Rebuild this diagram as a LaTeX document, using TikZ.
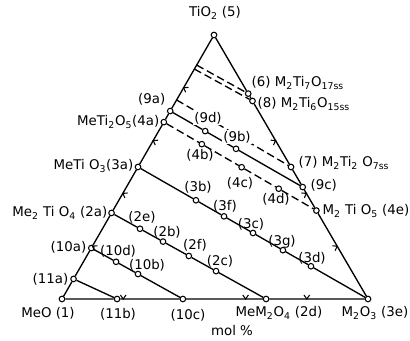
\documentclass[tikz,border=0pt]{standalone}
\usepackage{fontspec}
\setmainfont{DejaVu Sans}
\usetikzlibrary{calc}
\newcommand{\ix}[1]{\textsubscript{#1}}
\tikzset{
  pt/.style={circle,draw,fill=white,inner sep=0pt,minimum size=1.4mm,line width=0.75pt},
  lbl/.style={font=\fontsize{9.5}{11}\selectfont,inner sep=1pt},
  tie/.style={line width=0.95pt},
  tiedash/.style={line width=0.95pt,dash pattern=on 5.5pt off 2.8pt},
  chev/.pic={\draw[line width=0.75pt] (55:3.5pt) -- (0,0) -- (125:3.5pt);}
}
\begin{document}
\begin{tikzpicture}[x=0.025cm,y=-0.025cm]
\useasboundingbox (0,0) rectangle (410,341);
% corners
\node[pt] (TiO2) at (214,35) {};
\node[pt] (MeO) at (62,299) {};
\node[pt] (M2O3) at (368,299) {};
% MeO -- TiO2
\node[pt] (p11a) at ($(MeO)!0.076!(TiO2)$) {};
\node[pt] (p10a) at ($(MeO)!0.193!(TiO2)$) {};
\node[pt] (p2a) at ($(MeO)!0.326!(TiO2)$) {};
\node[pt] (p3a) at ($(MeO)!0.5!(TiO2)$) {};
\node[pt] (p4a) at ($(MeO)!0.67!(TiO2)$) {};
\node[pt] (p9a) at ($(MeO)!0.712!(TiO2)$) {};
\coordinate (d7) at ($(MeO)!0.754!(TiO2)$);
\coordinate (d8) at ($(MeO)!0.871!(TiO2)$);
\coordinate (d6) at ($(MeO)!0.886!(TiO2)$);
% M2O3 -- TiO2
\node[pt] (p4e) at ($(M2O3)!0.335!(TiO2)$) {};
\node[pt] (p9c) at ($(M2O3)!0.424!(TiO2)$) {};
\node[pt] (p7) at ($(M2O3)!0.5!(TiO2)$) {};
\node[pt] (p8) at ($(M2O3)!0.75!(TiO2)$) {};
\node[pt] (p6) at ($(M2O3)!0.778!(TiO2)$) {};
% MeO -- M2O3
\node[pt] (p11b) at ($(MeO)!0.18!(M2O3)$) {};
\node[pt] (p10c) at ($(MeO)!0.395!(M2O3)$) {};
\node[pt] (p2d) at ($(MeO)!0.667!(M2O3)$) {};
% inside
\node[pt] (p2e) at ($(p2a)!0.184!(p2d)$) {};
\node[pt] (p2b) at ($(p2a)!0.333!(p2d)$) {};
\node[pt] (p2f) at ($(p2a)!0.5!(p2d)$) {};
\node[pt] (p2c) at ($(p2a)!0.676!(p2d)$) {};
\node[pt] (p10d) at ($(p10a)!0.27!(p10c)$) {};
\node[pt] (p10b) at ($(p10a)!0.51!(p10c)$) {};
\node[pt] (p3b) at ($(p3a)!0.252!(M2O3)$) {};
\node[pt] (p3f) at ($(p3a)!0.374!(M2O3)$) {};
\node[pt] (p3c) at ($(p3a)!0.5!(M2O3)$) {};
\node[pt] (p3g) at ($(p3a)!0.63!(M2O3)$) {};
\node[pt] (p3d) at ($(p3a)!0.752!(M2O3)$) {};
\node[pt] (p9d) at ($(p9a)!0.264!(p9c)$) {};
\node[pt] (p9b) at ($(p9a)!0.497!(p9c)$) {};
\node[pt] (p4b) at ($(p4a)!0.249!(p4e)$) {};
\node[pt] (p4c) at ($(p4a)!0.51!(p4e)$) {};
\node[pt] (p4d) at ($(p4a)!0.753!(p4e)$) {};

% triangle
\draw[tie] (MeO) -- (p11a) -- (p10a) -- (p2a) -- (p3a) -- (p4a) -- (p9a) -- (TiO2)
  -- (p6) -- (p8) -- (p7) -- (p9c) -- (p4e) -- (M2O3)
  -- (p2d) -- (p10c) -- (p11b) -- (MeO);
% tie lines
\draw[tie] (p11a) -- (p11b);
\draw[tie] (p10a) -- (p10d) -- (p10b) -- (p10c);
\draw[tie] (p2a) -- (p2e) -- (p2b) -- (p2f) -- (p2c) -- (p2d);
\draw[tie] (p3a) -- (p3b) -- (p3f) -- (p3c) -- (p3g) -- (p3d) -- (M2O3);
\draw[tie] (p9a) -- (p9d) -- (p9b) -- (p9c);
\draw[tiedash] (p4a) -- (p4b) -- (p4c) -- (p4d) -- (p4e);
\draw[tiedash] (d7) -- (p7);
\draw[tiedash] (d8) -- (p8);
\draw[tiedash] (d6) -- (p6);

% marks on the sides
\foreach \t in {0.2,0.4,0.6,0.8}
  \pic[rotate=-120] at ($(MeO)!\t!(TiO2)$) {chev};
\foreach \t in {0.2,0.4,0.6}
  \pic[rotate=120] at ($(M2O3)!\t!(TiO2)$) {chev};
\foreach \t in {0.2,0.6,0.8}
  \pic at ($(MeO)!\t!(M2O3)$) {chev};

% labels
\node[lbl] (lTiO2) at (215,13) {TiO\ix{2} (5)};
\node[lbl,anchor=west] (l6) at (250,83) {(6) M\ix{2}Ti\ix{7}O\ix{17ss}};
\node[lbl,anchor=west] (l8) at (256,104) {(8) M\ix{2}Ti\ix{6}O\ix{15ss}};
\node[lbl,anchor=west] (l7) at (297,163) {(7) M\ix{2}Ti\ix{2} O\ix{7ss}};
\node[lbl,anchor=west] (l9c) at (309,185) {(9c)};
\node[lbl,anchor=west] (l4e) at (321,211) {M\ix{2} Ti O\ix{5} (4e)};
\node[lbl,anchor=east] (l9a) at (167,99) {(9a)};
\node[lbl,anchor=east] (l4a) at (161,122) {MeTi\ix{2}O\ix{5}(4a)};
\node[lbl,anchor=east] (l3a) at (135,166) {MeTi O\ix{3}(3a)};
\node[lbl,anchor=east] (l2a) at (109,213) {Me\ix{2} Ti O\ix{4} (2a)};
\node[lbl,anchor=east] (l10a) at (88,247) {(10a)};
\node[lbl,anchor=east] (l11a) at (70,279) {(11a)};
\node[lbl] (lMeO) at (48,313) {MeO (1)};
\node[lbl] (l11b) at (118,314) {(11b)};
\node[lbl] (l10c) at (188,315) {(10c)};
\node[lbl] (l2d) at (279,313) {MeM\ix{2}O\ix{4} (2d)};
\node[lbl] (lM2O3) at (375,313) {M\ix{2}O\ix{3} (3e)};
\node[lbl] (lmol) at (232,331) {mol \%};
\node[lbl,fill=white] (l9d) at (208,118) {(9d)};
\node[lbl,fill=white] (l9b) at (237,137) {(9b)};
\node[lbl] (l4b) at (200,155) {(4b)};
\node[lbl] (l4c) at (240,183) {(4c)};
\node[lbl] (l4d) at (276,199) {(4d)};
\node[lbl] (l3b) at (198,187) {(3b)};
\node[lbl] (l3f) at (225,206) {(3f)};
\node[lbl] (l3c) at (251,224) {(3c)};
\node[lbl] (l3g) at (282,242) {(3g)};
\node[lbl] (l3d) at (312,258) {(3d)};
\node[lbl] (l2e) at (142,217) {(2e)};
\node[lbl] (l2b) at (167,232) {(2b)};
\node[lbl] (l2f) at (195,245) {(2f)};
\node[lbl] (l2c) at (220,261) {(2c)};
\node[lbl] (l10d) at (118,251) {(10d)};
\node[lbl] (l10b) at (147,265) {(10b)};
\end{tikzpicture}
\end{document}
